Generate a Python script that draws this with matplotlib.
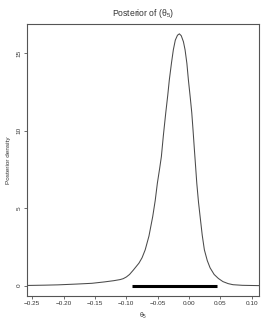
import matplotlib
matplotlib.use("Agg")
import matplotlib.pyplot as plt

# posterior density of theta_5
theta = [-0.259, -0.230, -0.209, -0.180, -0.155, -0.135, -0.120, -0.110,
         -0.105, -0.100, -0.095, -0.089, -0.080, -0.075, -0.070, -0.064,
         -0.058, -0.054, -0.0506, -0.047, -0.0442, -0.041, -0.0372, -0.034,
         -0.0315, -0.028, -0.0251, -0.022, -0.0185, -0.0155, -0.0125,
         -0.009, -0.0064, -0.0035, -0.0011, 0.002, 0.0043, 0.0064, 0.0085,
         0.0104, 0.0123, 0.015, 0.0176, 0.021, 0.0244, 0.029, 0.0335,
         0.040, 0.0468, 0.054, 0.0623, 0.070, 0.085, 0.112]
density = [0.01, 0.03, 0.05, 0.10, 0.15, 0.24, 0.32, 0.39,
           0.45, 0.56, 0.72, 1.00, 1.45, 1.80, 2.31, 3.20,
           4.46, 5.50, 6.61, 7.55, 8.33, 9.70, 11.16, 12.30,
           13.29, 14.40, 15.23, 15.85, 16.17, 16.26, 16.14,
           15.75, 15.23, 14.35, 13.29, 12.10, 11.16, 10.00, 8.77,
           7.70, 6.61, 5.40, 4.46, 3.25, 2.31, 1.62, 1.15,
           0.72, 0.46, 0.26, 0.13, 0.06, 0.02, 0.0]

# credible interval drawn on the baseline
interval = [-0.0906, 0.044]
interval_y = [0, 0]

xticks = [-0.25, -0.20, -0.15, -0.10, -0.05, 0.00, 0.05, 0.10]
yticks = [0, 5, 10, 15]

plt.rcParams["font.family"] = ["Liberation Sans", "DejaVu Sans"]
plt.rcParams["mathtext.fontset"] = "custom"
plt.rcParams["mathtext.rm"] = "Liberation Sans"
plt.rcParams["mathtext.it"] = "Liberation Sans"

fig = plt.figure(figsize=(2.73, 3.27), dpi=100)
ax = fig.add_axes([0.0978, 0.0948, 0.852, 0.832])

ax.plot(theta, density, color="#4a4a4a", lw=0.75)
ax.plot(interval, interval_y, color="black", lw=2.2, solid_capstyle="butt")

ax.set_xlim(-0.259, 0.112)
ax.set_ylim(-0.67, 16.9)
ax.set_xticks(xticks)
ax.set_xticklabels([f"{t:.2f}".replace("-", "\u2212") for t in xticks])
ax.set_yticks(yticks)
ax.set_yticklabels([str(t) for t in yticks], rotation=90, va="center")

for sp in ax.spines.values():
    sp.set_color("#555555")
    sp.set_linewidth(0.8)
ax.tick_params(direction="out", length=2.5, width=0.6, colors="#555555",
               labelcolor="#333333", labelsize=4.6, pad=1.2)

ax.set_title(r"Posterior of ($\theta_5$)", fontsize=6.2, color="#333333", pad=6)
ax.set_xlabel(r"$\theta_5$", fontsize=4.8, color="#333333", labelpad=3)
ax.set_ylabel("Posterior density", fontsize=4.6, color="#333333", labelpad=4)

fig.savefig("out.png", dpi=100)
